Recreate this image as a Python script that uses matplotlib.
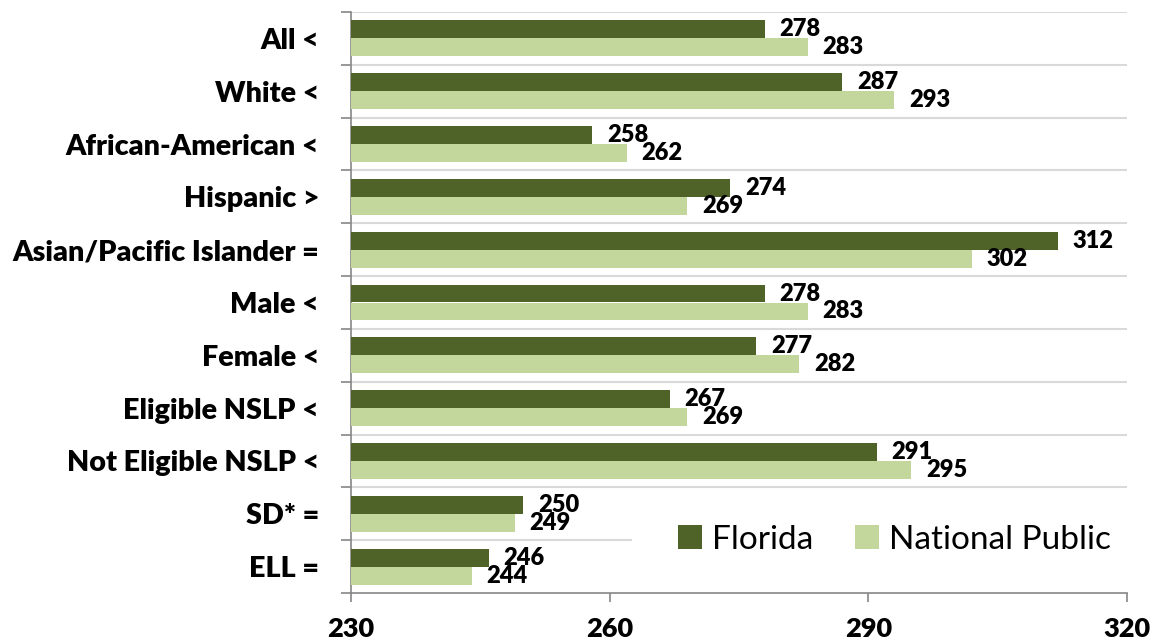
import matplotlib
matplotlib.use('Agg')
import matplotlib.pyplot as plt
import numpy as np
from matplotlib.patches import Rectangle
from matplotlib.ticker import FixedLocator

plt.rcParams['font.family'] = ['Lato', 'DejaVu Sans']

groups = ["All <", "White <", "African-American <", "Hispanic >",
          "Asian/Pacific Islander =", "Male <", "Female <", "Eligible NSLP <",
          "Not Eligible NSLP <", "SD* =", "ELL ="]
florida = [278, 287, 258, 274, 312, 278, 277, 267, 291, 250, 246]
national = [283, 293, 262, 269, 302, 283, 282, 269, 295, 249, 244]
x_ticks = [230, 260, 290, 320]

dark = "#4f6228"
light = "#c3d69b"
axis_grey = "#868686"

fig = plt.figure(figsize=(11.55, 6.43), dpi=100)
ax = fig.add_axes([351/1155, 1 - 593/643, (1127 - 351)/1155, (593 - 12)/643])

y = np.arange(len(groups))
h = 0.34
base = x_ticks[0]
ax.barh(y - h/2, np.array(florida) - base, left=base, height=h, color=dark, zorder=3, label="Florida")
ax.barh(y + h/2, np.array(national) - base, left=base, height=h, color=light, zorder=3, label="National Public")

# data labels
for yi, v in zip(y, florida):
    ax.annotate(str(v), (v, yi - h/2), xytext=(10.5, 0), textcoords="offset points",
                ha="left", va="center", fontsize=17, fontweight="heavy", zorder=6)
for yi, v in zip(y, national):
    ax.annotate(str(v), (v, yi + h/2), xytext=(10.5, 0), textcoords="offset points",
                ha="left", va="center", fontsize=17, fontweight="heavy", zorder=6)

ax.set_xlim(x_ticks[0], x_ticks[-1])
ax.set_ylim(len(groups) - 0.5, -0.5)

# light lines between categories
for b in np.arange(-0.5, len(groups) - 1, 1.0):
    ax.axhline(b, color="#d9d9d9", lw=1.5, zorder=1)

ax.set_yticks(y)
ax.set_yticklabels(groups, fontsize=20.7, fontweight="heavy")
ax.tick_params(axis="y", which="major", length=0, pad=23)
ax.yaxis.set_minor_locator(FixedLocator(np.arange(-0.5, len(groups), 1.0)))
ax.tick_params(axis="y", which="minor", length=7.2, width=1.2, color=axis_grey, direction="out")

ax.set_xticks(x_ticks)
ax.set_xticklabels([str(t) for t in x_ticks], fontsize=19.5, fontweight="heavy")
ax.tick_params(axis="x", length=6.5, width=1.2, color=axis_grey, direction="out", pad=11)

for s in ["top", "right"]:
    ax.spines[s].set_visible(False)
for s in ["left", "bottom"]:
    ax.spines[s].set_color(axis_grey)
    ax.spines[s].set_linewidth(1.2)

# legend sits on a white box that hides the lower grid line
ax.add_patch(Rectangle((0.362, 0.057), 0.64, 0.07, transform=ax.transAxes,
                       facecolor="white", edgecolor="none", zorder=4, clip_on=False))
leg = ax.legend(loc="center left", bbox_to_anchor=(651/1155, 1 - 540/643),
                bbox_transform=fig.transFigure, ncol=2, frameon=False,
                fontsize=24, handlelength=0.72, handleheight=0.72,
                handletextpad=0.3, columnspacing=1.25, borderpad=0.3)
leg.set_zorder(5)

plt.savefig("out.png", dpi=100)
